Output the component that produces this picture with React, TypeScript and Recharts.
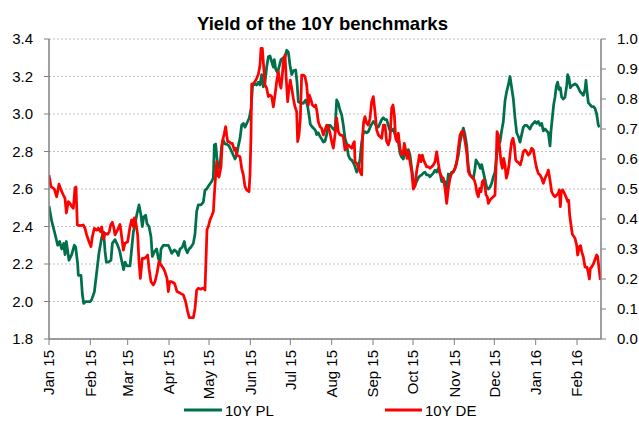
import { LineChart, Line, XAxis, YAxis, CartesianGrid } from 'recharts';

const FONT = '"Liberation Sans", Arial, sans-serif';
const GREEN = '#00704a';
const RED = '#ff0000';

// x axis: days since 1 Jan 2015, ticks on the first of each month
const monthTicks = [0, 31, 59, 90, 120, 151, 181, 212, 243, 273, 304, 334, 365, 396];
const monthLabels = [
  'Jan 15', 'Feb 15', 'Mar 15', 'Apr 15', 'May 15', 'Jun 15', 'Jul 15',
  'Aug 15', 'Sep 15', 'Oct 15', 'Nov 15', 'Dec 15', 'Jan 16', 'Feb 16',
];
const leftTicks = [1.8, 2.0, 2.2, 2.4, 2.6, 2.8, 3.0, 3.2, 3.4];
const rightTicks = [0, 0.1, 0.2, 0.3, 0.4, 0.5, 0.6, 0.7, 0.8, 0.9, 1.0];

// 10Y PL (left axis)
const plDays = [
  0, 2, 4.5, 6.5, 8, 9.5, 11, 12, 13, 14, 15, 17, 19, 20, 21.5, 22, 24, 25, 26, 27.5,
  31, 32, 34, 36, 37.5, 39.5, 41, 42, 43, 44.5, 46.5, 47.5, 49.5, 51.5, 53, 55, 56, 57, 58.5, 60.75,
  62, 63.25, 64.5, 65.75, 67.5, 69, 70, 71, 72.5, 73.5, 75, 76.5, 77.5, 79, 80.75, 82, 83.25, 84, 85.75, 87.5,
  89.5, 90.75, 92, 94, 95.75, 97, 98.25, 100, 101.5, 102.5, 103.75, 105, 106.5, 108.25, 109.5, 110.75, 112, 114, 115.75, 117,
  118.25, 120, 122, 123.25, 124, 125, 126, 127, 128.25, 129.5, 130.75, 132, 133.25, 135, 137, 138.25, 139.5, 140.75, 142, 143.25,
  144.5, 145.75, 147, 149, 150.25, 151.5, 152.75, 154.5, 155.75, 157, 158.25, 159.5, 160.75, 162, 163.25, 164.5, 165.75, 167, 168.25, 169,
  170, 171.5, 172.5, 174, 175.75, 177, 178.25, 179.5, 180.75, 182, 183.25, 185, 186, 187, 188.25, 190.75, 192.5, 194, 195, 196,
  197.5, 199, 200, 200.75, 202, 203.25, 204.5, 205.75, 207, 208.25, 209.5, 210.75, 212, 213.25, 214.5, 215.75, 217, 218.25, 219.5, 220.75,
  222, 223.25, 224.5, 225.75, 227, 228.25, 229.5, 230.75, 232, 233.25, 234.5, 235.75, 237, 238.25, 239.5, 241.5, 243.25, 244.5, 245.75, 247,
  248.25, 249.5, 250.75, 252, 253.25, 254.5, 255.75, 257, 258.25, 259.5, 260.75, 262, 263.25, 264.5, 265.75, 267, 268.25, 269.5, 270.75, 272,
  273.25, 274.5, 275.75, 277, 278.25, 279.5, 280.75, 282, 283.25, 284.5, 285.75, 287, 288.25, 289.5, 290.75, 292, 293.25, 294.5, 295.75, 297,
  298.25, 299.5, 300.75, 302, 303.25, 304.5, 305.75, 307, 308.25, 309.5, 310.75, 312, 313.25, 314.5, 315.75, 317, 318.25, 319.5, 320.25, 321.5,
  322.5, 323.5, 324.5, 325.75, 327, 328.25, 329.5, 330.75, 332, 333.25, 334.5, 335.75, 337, 338.25, 339.5, 340.75, 342, 343.25, 344.5, 345.75,
  347, 348.25, 349.5, 350.75, 352, 353.25, 354.5, 355.75, 357, 358.25, 359.5, 360.75, 362, 363.25, 364.5, 365.75, 367, 368.25, 369.5, 370.75,
  372, 373.25, 374.5, 375.75, 376.5, 377.5, 378.5, 379.5, 380.5, 381.5, 382.5, 383.5, 384.5, 385.75, 387, 388.25, 389, 390, 391, 392,
  393.25, 394.5, 395.75, 397, 398.25, 399.5, 400.75, 402, 402.75, 403.5, 404.5, 405.75, 407, 408.25, 409.5, 410.75, 412, 413,
];
const plYield = [
  2.51, 2.43, 2.36, 2.3, 2.32, 2.28, 2.31, 2.25, 2.32, 2.27, 2.22, 2.25, 2.3, 2.29, 2.2, 2.14, 2.14, 2.04, 1.99, 2.0,
  2.0, 2.01, 2.05, 2.17, 2.26, 2.34, 2.37, 2.27, 2.21, 2.21, 2.22, 2.31, 2.33, 2.3, 2.27, 2.2, 2.17, 2.21, 2.19, 2.19,
  2.28, 2.37, 2.41, 2.46, 2.515, 2.46, 2.4, 2.45, 2.46, 2.415, 2.4, 2.345, 2.24, 2.265, 2.28, 2.23, 2.21, 2.28, 2.3, 2.3,
  2.3, 2.28, 2.257, 2.275, 2.265, 2.245, 2.28, 2.29, 2.32, 2.28, 2.26, 2.28, 2.29, 2.31, 2.36, 2.48, 2.515, 2.515, 2.53, 2.595,
  2.6, 2.62, 2.64, 2.66, 2.835, 2.84, 2.76, 2.71, 2.73, 2.83, 2.86, 2.84, 2.84, 2.83, 2.8, 2.78, 2.76, 2.78, 2.83, 2.87,
  2.94, 2.95, 2.93, 2.96, 2.98, 3.03, 3.155, 3.16, 3.155, 3.17, 3.155, 3.21, 3.145, 3.17, 3.25, 3.305, 3.31, 3.28, 3.25, 3.29,
  3.24, 3.22, 3.25, 3.29, 3.3, 3.305, 3.34, 3.33, 3.26, 3.21, 3.23, 3.235, 3.17, 3.065, 3.06, 3.057, 3.075, 3.04, 2.995, 2.945,
  2.93, 2.92, 2.91, 2.89, 2.9, 2.88, 2.867, 2.85, 2.855, 2.89, 2.94, 2.94, 2.93, 2.92, 2.91, 3.075, 3.057, 3.02, 2.996, 2.94,
  2.87, 2.84, 2.78, 2.76, 2.755, 2.74, 2.72, 2.69, 2.71, 2.76, 2.85, 2.9, 2.906, 2.9, 2.906, 2.94, 2.96, 2.95, 2.93, 2.93,
  2.95, 2.97, 2.98, 2.97, 2.97, 2.94, 2.91, 2.91, 2.92, 2.89, 2.87, 2.85, 2.79, 2.77, 2.76, 2.8, 2.78, 2.81, 2.78, 2.71,
  2.65, 2.62, 2.64, 2.66, 2.67, 2.675, 2.685, 2.69, 2.675, 2.675, 2.665, 2.675, 2.685, 2.7, 2.69, 2.71, 2.685, 2.64, 2.64, 2.64,
  2.6, 2.68, 2.67, 2.69, 2.69, 2.71, 2.745, 2.78, 2.85, 2.89, 2.925, 2.89, 2.835, 2.72, 2.675, 2.665, 2.655, 2.71, 2.755, 2.74,
  2.73, 2.71, 2.73, 2.69, 2.65, 2.61, 2.6, 2.61, 2.63, 2.665, 2.69, 2.78, 2.835, 2.85, 2.91, 2.96, 3.07, 3.12, 3.155, 3.2,
  3.14, 3.08, 2.98, 2.9, 2.88, 2.85, 2.89, 2.93, 2.94, 2.94, 2.93, 2.92, 2.94, 2.95, 2.96, 2.95, 2.96, 2.94, 2.95, 2.91,
  2.92, 2.91, 2.9, 2.83, 2.91, 2.98, 3.05, 3.09, 3.15, 3.17, 3.13, 3.14, 3.09, 3.08, 3.09, 3.15, 3.21, 3.19, 3.14, 3.15,
  3.155, 3.16, 3.155, 3.14, 3.12, 3.11, 3.1, 3.13, 3.18, 3.12, 3.06, 3.05, 3.04, 3.04, 3.03, 3.0, 2.94, 2.93,
];

// 10Y DE (right axis)
const deDays = [
  0, 1.5, 4, 5.75, 7.5, 9, 10.75, 12, 13, 14.5, 16, 17, 18.25, 19.5, 20.25, 21.25, 23.25, 25.75, 27, 28.25,
  30, 31.5, 32.5, 34, 35.75, 37, 38.5, 39.5, 40.75, 42, 44, 45.25, 46.25, 47.5, 48.5, 49.5, 50.75, 52, 53.25, 54,
  55, 55.75, 57, 59, 60.75, 62, 63.25, 64, 65, 66.5, 67.5, 68.5, 70, 71.5, 73, 74, 75, 76.5, 78.25, 79.5,
  81, 82.5, 84, 85.75, 87, 88.5, 89.5, 90.5, 92, 94, 95, 96, 98.25, 100.75, 102.5, 104, 105.25, 108.25, 109.5, 110.75,
  112, 114, 115, 116, 117, 118.5, 119.5, 120.75, 122, 123.25, 124, 125, 125.75, 126.5, 127.5, 129, 130, 131.5, 132.5, 133.25,
  134, 135, 136.5, 137.5, 139, 140, 140.75, 142, 143.25, 144.5, 145.75, 147, 148.25, 150, 150.75, 151.5, 152, 153.25, 154.5, 155.75,
  157, 158.25, 159, 160, 160.75, 162, 163.25, 164.5, 165.75, 167, 168.25, 169.5, 170.75, 172, 173.25, 174, 175, 175.75, 177, 177.75,
  179, 180, 181, 182, 183.25, 184.5, 185.75, 186.5, 187.5, 188.5, 189.5, 190.75, 192, 193.25, 194.5, 195.25, 196.5, 197.5, 199, 200,
  201, 202, 203.25, 204.5, 205.75, 207, 208.25, 209.5, 210.75, 212, 213.25, 214.5, 215.75, 217, 218.25, 219.5, 220.75, 222, 223.25, 224.5,
  225.75, 227, 228.25, 229, 229.5, 230.75, 232, 233.25, 234.5, 235.25, 236, 237, 238.25, 239.5, 240.75, 242, 243.25, 244.5, 245.75, 247,
  248.25, 249.5, 250.75, 252, 253.25, 254.5, 255.75, 257, 258, 259, 260, 261, 262, 263.25, 264.5, 265.75, 266.5, 267.5, 268.5, 269.5,
  270.75, 272, 273.25, 274.5, 275.75, 277, 277.75, 279, 280, 281, 282, 283.25, 284.5, 285.75, 287, 288.25, 289.5, 290.75, 292, 293.25,
  294.5, 295.75, 297, 298.25, 299.5, 300.75, 302, 303.25, 304.5, 305.75, 307, 308.25, 309.5, 310.75, 312, 313.25, 314.5, 315.75, 317, 319,
  320, 321, 322, 323, 324, 325, 326, 327, 327.75, 328.75, 329.5, 330.75, 332, 333.25, 334.5, 335.25, 336, 337, 338, 339,
  340, 341, 342, 343, 344, 345, 346, 347, 348, 349, 350, 351, 352.5, 353.5, 354.5, 355.75, 357, 358.25, 359.5, 360.75,
  362, 363.25, 364.5, 365.75, 367, 368.25, 369.5, 370.75, 372, 373.25, 374.5, 375.75, 377, 378.25, 379.5, 380.75, 382, 382.75, 383.5, 384.25,
  385.25, 386.5, 387.75, 389, 389.75, 390.5, 391.5, 392.5, 393.75, 394.5, 395.75, 396.5, 397.75, 398.75, 399.5, 400.75, 402, 403.5, 404.5, 405.25,
  406, 407, 408.25, 409.5, 410.75, 411.5, 412.5, 413.5,
];
const deYield = [
  0.547, 0.508, 0.5, 0.474, 0.516, 0.497, 0.48, 0.469, 0.42, 0.458, 0.45, 0.442, 0.436, 0.504, 0.507, 0.38, 0.378, 0.38, 0.369, 0.347,
  0.324, 0.308, 0.341, 0.369, 0.363, 0.369, 0.358, 0.374, 0.333, 0.352, 0.349, 0.358, 0.38, 0.389, 0.374, 0.347, 0.358, 0.369, 0.382, 0.358,
  0.324, 0.296, 0.319, 0.324, 0.374, 0.397, 0.374, 0.404, 0.391, 0.347, 0.258, 0.202, 0.269, 0.269, 0.274, 0.28, 0.236, 0.191, 0.18, 0.191,
  0.219, 0.258, 0.247, 0.236, 0.224, 0.202, 0.158, 0.191, 0.191, 0.186, 0.174, 0.158, 0.153, 0.147, 0.124, 0.091, 0.071, 0.071, 0.102, 0.163,
  0.169, 0.166, 0.169, 0.17, 0.163, 0.365, 0.375, 0.397, 0.41, 0.424, 0.48, 0.547, 0.591, 0.547, 0.54, 0.574, 0.658, 0.686, 0.708, 0.68,
  0.658, 0.658, 0.652, 0.652, 0.63, 0.636, 0.613, 0.611, 0.608, 0.569, 0.547, 0.508, 0.497, 0.491, 0.547, 0.68, 0.849, 0.852, 0.858, 0.869,
  0.882, 0.913, 0.969, 0.969, 0.924, 0.847, 0.836, 0.808, 0.813, 0.808, 0.774, 0.813, 0.858, 0.891, 0.847, 0.836, 0.88, 0.924, 0.947, 0.88,
  0.791, 0.836, 0.863, 0.836, 0.802, 0.774, 0.758, 0.658, 0.68, 0.736, 0.88, 0.88, 0.874, 0.847, 0.78, 0.813, 0.797, 0.78, 0.774, 0.78,
  0.758, 0.724, 0.708, 0.702, 0.68, 0.697, 0.713, 0.708, 0.686, 0.658, 0.636, 0.68, 0.736, 0.691, 0.68, 0.68, 0.674, 0.63, 0.641, 0.647,
  0.641, 0.636, 0.652, 0.658, 0.591, 0.586, 0.574, 0.558, 0.547, 0.68, 0.724, 0.741, 0.719, 0.713, 0.736, 0.791, 0.808, 0.758, 0.697, 0.68,
  0.674, 0.669, 0.713, 0.713, 0.658, 0.647, 0.669, 0.769, 0.78, 0.747, 0.669, 0.658, 0.686, 0.636, 0.613, 0.624, 0.652, 0.63, 0.602, 0.624,
  0.591, 0.558, 0.5, 0.51, 0.56, 0.591, 0.613, 0.591, 0.613, 0.597, 0.586, 0.574, 0.574, 0.569, 0.574, 0.58, 0.591, 0.624, 0.586, 0.552,
  0.541, 0.536, 0.502, 0.452, 0.502, 0.536, 0.552, 0.558, 0.569, 0.586, 0.636, 0.68, 0.691, 0.693, 0.658, 0.624, 0.558, 0.547, 0.541, 0.53,
  0.513, 0.486, 0.474, 0.502, 0.491, 0.524, 0.53, 0.508, 0.48, 0.474, 0.452, 0.463, 0.469, 0.474, 0.48, 0.569, 0.691, 0.68, 0.636, 0.591,
  0.569, 0.602, 0.58, 0.536, 0.552, 0.58, 0.624, 0.658, 0.669, 0.647, 0.597, 0.591, 0.586, 0.58, 0.597, 0.624, 0.63, 0.624, 0.613, 0.619,
  0.636, 0.63, 0.597, 0.569, 0.552, 0.547, 0.536, 0.519, 0.536, 0.547, 0.563, 0.53, 0.491, 0.48, 0.474, 0.48, 0.486, 0.497, 0.441, 0.491,
  0.497, 0.486, 0.474, 0.458, 0.463, 0.413, 0.38, 0.349, 0.341, 0.336, 0.313, 0.28, 0.308, 0.311, 0.291, 0.274, 0.24, 0.24, 0.22, 0.2,
  0.235, 0.24, 0.25, 0.265, 0.28, 0.275, 0.235, 0.197,
];

const plData = plDays.map((day, i) => ({ day, value: plYield[i] }));
const deData = deDays.map((day, i) => ({ day, value: deYield[i] }));

const MonthTick = (props: any) => {
  const { x, y, payload } = props;
  const label = monthLabels[monthTicks.indexOf(payload.value)];
  return (
    <text
      x={x}
      y={y}
      transform={`rotate(-90, ${x}, ${y})`}
      textAnchor="end"
      dy="0.35em"
      fontSize={15}
      fontFamily={FONT}
      fill="#000"
    >
      {label}
    </text>
  );
};

const axisStroke = { stroke: '#808080', strokeWidth: 1.5 };
const tickText = { fontSize: 15, fontFamily: FONT, fill: '#000' };

export default function App() {
  return (
    <div style={{ position: 'absolute', left: 0, top: 0, width: 639, height: 423, background: '#fff' }}>
      <LineChart width={639} height={423} margin={{ top: 39, right: 0, left: 1, bottom: 0 }}>
        <CartesianGrid
          yAxisId="left"
          vertical={false}
          stroke="#c0c0c0"
          strokeDasharray="2 2"
        />
        <XAxis
          dataKey="day"
          type="number"
          domain={[0, 414]}
          ticks={monthTicks}
          interval={0}
          allowDataOverflow
          height={84}
          tickSize={6}
          tickMargin={5}
          axisLine={axisStroke}
          tickLine={{ stroke: '#808080' }}
          tick={<MonthTick />}
        />
        <YAxis
          yAxisId="left"
          domain={[1.8, 3.4]}
          ticks={leftTicks}
          interval={0}
          allowDataOverflow
          width={48}
          tickSize={5}
          tickMargin={11}
          axisLine={axisStroke}
          tickLine={{ stroke: '#808080' }}
          tick={tickText}
          tickFormatter={(v: number) => v.toFixed(1)}
        />
        <YAxis
          yAxisId="right"
          orientation="right"
          domain={[0, 1]}
          ticks={rightTicks}
          interval={0}
          allowDataOverflow
          width={38}
          tickSize={5}
          tickMargin={11}
          axisLine={axisStroke}
          tickLine={{ stroke: '#808080' }}
          tick={tickText}
          tickFormatter={(v: number) => v.toFixed(1)}
        />
        <Line
          yAxisId="left"
          data={plData}
          dataKey="value"
          name="10Y PL"
          type="linear"
          stroke={GREEN}
          strokeWidth={2.75}
          strokeLinejoin="round"
          dot={false}
          activeDot={false}
          isAnimationActive={false}
        />
        <Line
          yAxisId="right"
          data={deData}
          dataKey="value"
          name="10Y DE"
          type="linear"
          stroke={RED}
          strokeWidth={2.75}
          strokeLinejoin="round"
          dot={false}
          activeDot={false}
          isAnimationActive={false}
        />
      </LineChart>

      {/* title and legend */}
      <svg
        width={639}
        height={423}
        style={{ position: 'absolute', left: 0, top: 0, pointerEvents: 'none' }}
      >
        <text x={322.5} y={30} textAnchor="middle" fontSize={18.5} fontWeight="bold" fontFamily={FONT} fill="#000">
          Yield of the 10Y benchmarks
        </text>
        <line x1={184} y1={410} x2={222} y2={410} stroke={GREEN} strokeWidth={3} />
        <text x={225} y={415.5} fontSize={15} fontFamily={FONT} fill="#000">
          10Y PL
        </text>
        <line x1={385} y1={410} x2={422} y2={410} stroke={RED} strokeWidth={3} />
        <text x={425} y={415.5} fontSize={15} fontFamily={FONT} fill="#000">
          10Y DE
        </text>
      </svg>
    </div>
  );
}
